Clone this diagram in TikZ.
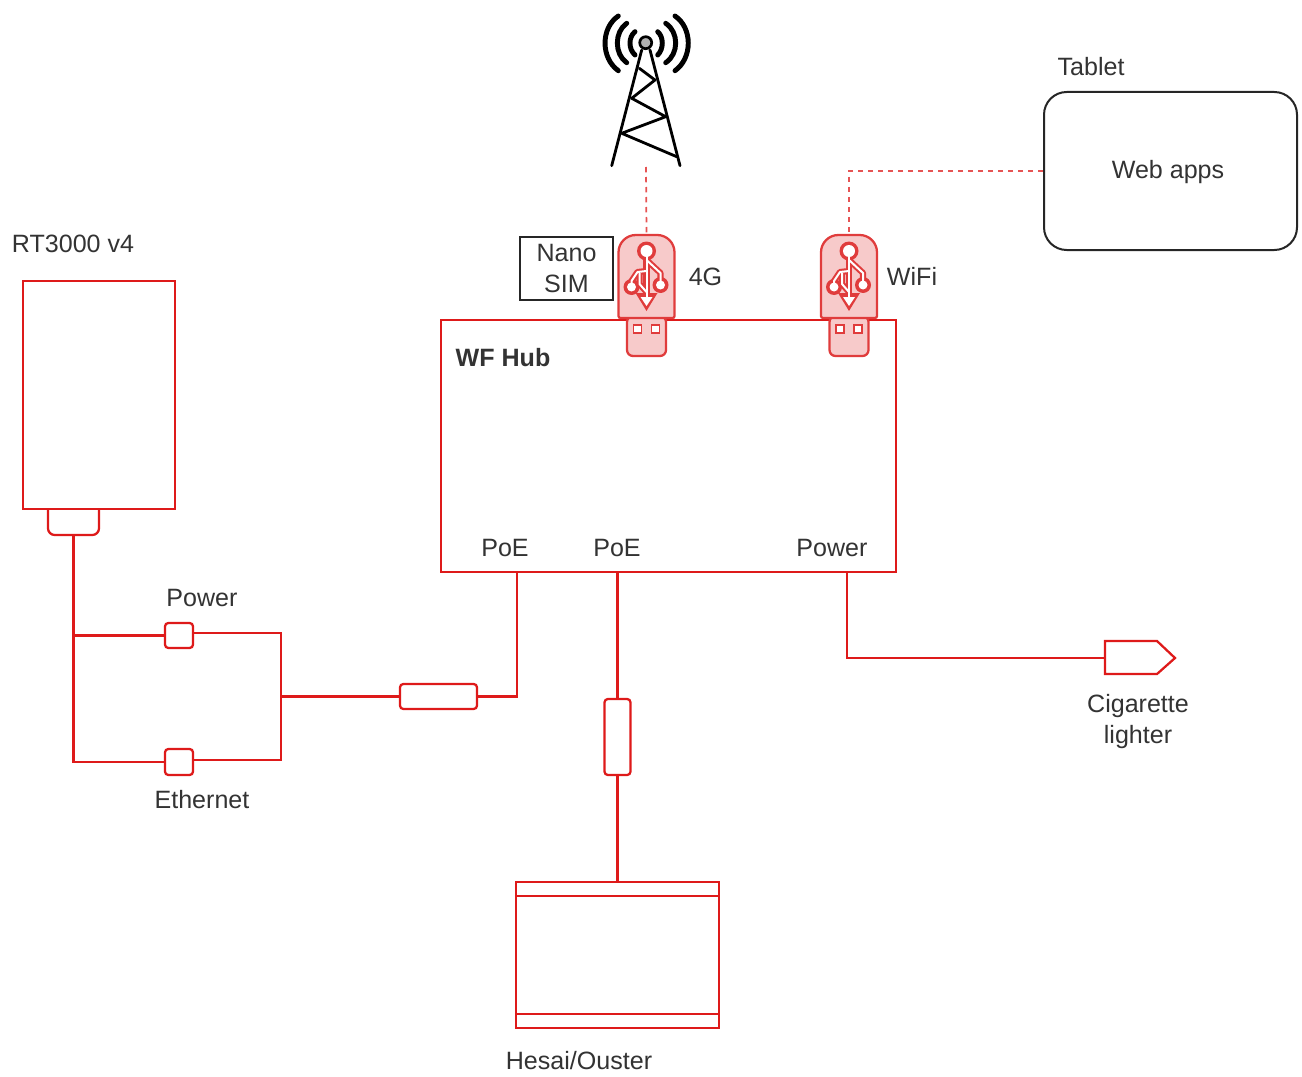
\documentclass[tikz,border=0pt]{standalone}
\usepackage{fontspec}
\setmainfont{Liberation Sans}
\definecolor{linered}{HTML}{DE1A1A}
\definecolor{usbfill}{HTML}{F7CACA}
\definecolor{usbline}{HTML}{E03C3C}
\definecolor{txt}{HTML}{333333}
\tikzset{
  lbl/.style={text=txt,font=\fontsize{18.8}{23.2}\selectfont,inner sep=0pt,align=center},
  redbox/.style n args={2}{draw=linered,line width=1.7pt,fill=white,inner sep=0pt,minimum width=#1*0.75pt,minimum height=#2*0.75pt},
  wire/.style={draw=linered,line width=1.7pt,line join=miter},
  dashwire/.style={draw=linered!75!white,line width=1.3pt,dash pattern=on 4pt off 3.5pt},
  wave/.style={draw=black,line width=3.7pt,line cap=round},
  truss/.style={draw=black,line width=2.1pt,line cap=round,line join=round},
  usbicon/.style={draw=usbline,line width=4.6pt,line join=round},
  usbicontop/.style={draw=white,line width=1.5pt,line join=round},
  usbstick/.pic={
    \path[draw=usbline,fill=usbfill,line width=1.7pt,rounded corners=4.5pt]
      (-19.5,40) -- (-19.5,80) -- (19.5,80) -- (19.5,40) -- cycle;
    \draw[draw=usbline,fill=white,line width=1.3pt] (-13,49) rectangle (-5,57);
    \draw[draw=usbline,fill=white,line width=1.3pt] (5,49) rectangle (13,57);
    \path[draw=usbline,fill=usbfill,line width=1.7pt,rounded corners=1.5pt]
      (-28,42) -- (-28,-20) [rounded corners=13pt] -- (-28,-41) -- (28,-41) [rounded corners=1.5pt] -- (28,-20) -- (28,42) -- cycle;
    \node[inner sep=0pt,minimum width=42pt,minimum height=62pt] (-body) at (0,0.5) {};
    \draw[usbicon] (0,-25) -- (0,24);
    \draw[usbicon] (0,-16) -- (14,-3) -- (14,9);
    \draw[usbicon] (0,-5) -- (-9,-4) -- (-15,5) -- (-15,11);
    \draw[usbicon] (-7,-3) -- (-7,8) -- (0,16);
    \fill[usbline] (0,-25) circle[radius=9.5];
    \fill[usbline] (14,9) circle[radius=8];
    \fill[usbline] (-15,11) circle[radius=8];
    \fill[usbline] (-11,17) -- (11,17) -- (0,35) -- cycle;
    \draw[usbicontop] (0,-25) -- (0,24);
    \draw[usbicontop] (0,-16) -- (14,-3) -- (14,9);
    \draw[usbicontop] (0,-5) -- (-9,-4) -- (-15,5) -- (-15,11);
    \draw[usbicontop] (-7,-3) -- (-7,8) -- (0,16);
    \fill[white] (0,-25) circle[radius=6];
    \fill[white] (14,9) circle[radius=4.5];
    \fill[white] (-15,11) circle[radius=4.5];
    \fill[white] (-6,21) -- (6,21) -- (0,30) -- cycle;
  }
}
\begin{document}
\begin{tikzpicture}[x=0.75pt,y=-0.75pt]
\useasboundingbox (0,0) rectangle (1302,1077);

% RT3000
\node[redbox={51}{50},rounded corners=5pt] (rtport) at (73.5,510) {};
\node[redbox={152}{228}] (rt) at (99,395) {};
\node[lbl] (rtlbl) at (73,244) {RT3000 v4};

% Power / Ethernet couplers
\node[redbox={28}{25},rounded corners=2.5pt] (pow) at (179,635.5) {};
\node[redbox={28}{26},rounded corners=2.5pt] (eth) at (179,762) {};
\node[lbl] (powlbl) at (202,598) {Power};
\node[lbl] (ethlbl) at (202,800) {Ethernet};
\coordinate (jn) at (281,696.5);
\node[redbox={77}{25},rounded corners=2.5pt] (inl) at (438.5,696.5) {};

% Hub
\node[redbox={455}{252}] (hub) at (668.5,446) {};
\node[lbl,font=\fontsize{18.8}{23.2}\selectfont\bfseries] (hublbl) at (503,358) {WF Hub};
\node[lbl] (poea) at (505,547.5) {PoE};
\node[lbl] (poeb) at (617,547.5) {PoE};
\node[lbl] (poec) at (832,547.5) {Power};
\coordinate (hubpa) at (517,572);
\coordinate (hubpb) at (617.5,572);
\coordinate (hubpc) at (847,572);

% wires
\draw[wire] (rtport.south) |- (pow.west);
\draw[wire] (rtport.south) |- (eth.west);
\draw[wire] ([yshift=1.9pt]pow.east) -| (jn);
\draw[wire] ([yshift=1.5pt]eth.east) -| (jn);
\draw[wire] (jn) -- (inl.west);
\draw[wire] (inl.east) -| (hubpa);

% Lidar
\node[redbox={203}{146}] (lidar) at (617.5,955) {};
\draw[wire] ([yshift=-11.25pt]lidar.north west) -- ([yshift=-11.25pt]lidar.north east);
\draw[wire] ([yshift=11.25pt]lidar.south west) -- ([yshift=11.25pt]lidar.south east);
\node[lbl] (lidarlbl) at (579,1061) {Hesai/Ouster};
\node[redbox={26}{76},rounded corners=2.5pt] (inb) at (617.5,737) {};
\draw[wire] (hubpb) -- (inb.north);
\draw[wire] (inb.south) -- (lidar.north);

% Cigarette plug
\coordinate (plugw) at (1105,658);
\path[wire,fill=white] (1105,641) -- (1157,641) -- (1175,658) -- (1157,674) -- (1105,674) -- cycle;
\draw[wire] (hubpc) |- (plugw);
\node[lbl] (pluglbl) at (1138,721.5) {Cigarette\\lighter};

% Tablet
\node[draw=black!85,line width=1.5pt,rounded corners=17pt,fill=white,inner sep=0pt,minimum width=189.75pt,minimum height=118.5pt] (tablet) at (1170.5,171) {};
\node[lbl] (webapps) at (1168,172) {Web apps};
\node[lbl] (tabletlbl) at (1091,67) {Tablet};

% Nano SIM
\node[draw=black!85,line width=1.5pt,inner sep=0pt,minimum width=69.75pt,minimum height=47.25pt,lbl] (sim) at (566.5,268.5) {Nano\\SIM};

% USB sticks
\pic (ga) at (646.5,276) {usbstick};
\pic (wi) at (849,276) {usbstick};
\node[lbl] (galbl) at (705.5,276.5) {4G};
\node[lbl] (wilbl) at (912,276) {WiFi};

% Tower
\coordinate (towerbase) at (646,167);
\draw[truss] (641.7,50) -- (611.7,165.7);
\draw[truss] (650,50) -- (680,165.7);
\draw[truss] (639.3,68.3) -- (655,80) -- (631.7,98.3) -- (665.7,116.7) -- (621.7,133.3) -- (676.7,156.7);
\draw[draw=black,fill=black!30,line width=2pt] (645.7,42.7) circle[radius=6];
\draw[wave] (618.3,16) .. controls (600.6,28) and (600.6,58) .. (618.3,70.7);
\draw[wave] (626.7,23.3) .. controls (614.2,32) and (614.2,54) .. (626.7,62.7);
\draw[wave] (635,31.7) .. controls (628.3,37) and (628.3,49) .. (635,55);
\draw[wave] (675,16) .. controls (692.7,28) and (692.7,58) .. (675,70.7);
\draw[wave] (665.7,23.3) .. controls (679,32) and (679,54) .. (665.7,62.7);
\draw[wave] (657.7,31.7) .. controls (663.8,37) and (663.8,49) .. (657.7,55);

% dashed radio links
\draw[dashwire] (towerbase) -- (ga-body.north);
\draw[dashwire] (tablet.west) -| (wi-body.north);
\end{tikzpicture}
\end{document}
